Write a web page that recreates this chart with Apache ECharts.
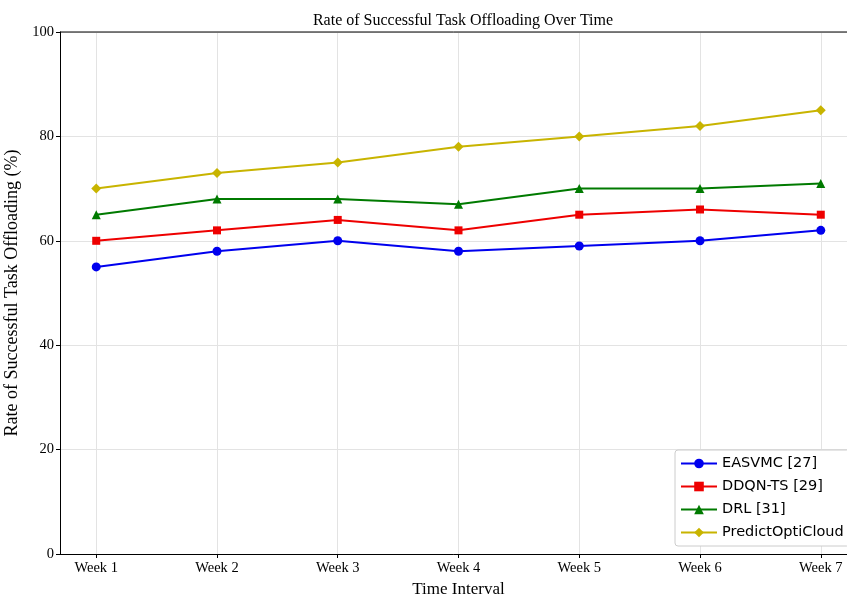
<!DOCTYPE html>
<html>
<head>
<meta charset="utf-8">
<script src="https://cdn.jsdelivr.net/npm/echarts@6/dist/echarts.min.js"></script>
<style>
  html, body { margin: 0; padding: 0; background: #fff; }
  #chart { width: 847px; height: 596px; }
</style>
</head>
<body>
<div id="chart"></div>
<script>
const weeks = ['Week 1', 'Week 2', 'Week 3', 'Week 4', 'Week 5', 'Week 6', 'Week 7'];
const easvmc = [55, 58, 60, 58, 59, 60, 62];
const ddqnts = [60, 62, 64, 62, 65, 66, 65];
const drl = [65, 68, 68, 67, 70, 70, 71];
const predictOptiCloud = [70, 73, 75, 78, 80, 82, 85];
const yTicks = [0, 20, 40, 60, 80, 100];

const serif = '"Liberation Serif", "DejaVu Serif", serif';
const pos = weeks.map((_, i) => i + 1);
const toPts = (arr) => arr.map((v, i) => [i + 1, v]);

const chart = echarts.init(document.getElementById('chart'));

function line(name, data, color, symbol, size) {
  return {
    name,
    type: 'line',
    data: toPts(data),
    symbol,
    symbolSize: size,
    itemStyle: { color },
    lineStyle: { color, width: 2 },
    emphasis: { disabled: true },
    z: 3,
  };
}

chart.setOption({
  animation: false,
  title: {
    text: 'Rate of Successful Task Offloading Over Time',
    left: 458,
    textAlign: 'center',
    top: 8,
    textStyle: { fontFamily: serif, fontSize: 16, fontWeight: 'normal', color: '#000' },
  },
  legend: {
    orient: 'vertical',
    left: 675,
    top: 450,
    padding: [6, 6, 6, 5],
    itemGap: 8,
    itemWidth: 36,
    itemHeight: 12,
    backgroundColor: '#fff',
    borderColor: '#ccc',
    borderWidth: 1,
    borderRadius: 3,
    textStyle: { fontFamily: '"DejaVu Sans", sans-serif', fontSize: 14.5, lineHeight: 15, color: '#000' },
    data: ['EASVMC [27]', 'DDQN-TS [29]', 'DRL [31]', 'PredictOptiCloud'],
  },
  grid: { left: 60, right: -10, top: 32, bottom: 42, containLabel: false, outerBoundsMode: 'none' },
  xAxis: {
    type: 'value',
    min: 0.7,
    max: 7.3,
    name: 'Time Interval',
    nameLocation: 'middle',
    nameGap: 25,
    nameTextStyle: { fontFamily: serif, fontSize: 17, color: '#000' },
    axisLine: { show: true, lineStyle: { color: '#000', width: 1 } },
    axisTick: { show: true, customValues: pos, length: 4, lineStyle: { color: '#000' } },
    axisLabel: {
      customValues: pos,
      fontFamily: serif,
      fontSize: 14.5,
      color: '#000',
      margin: 7,
      formatter: (v) => weeks[Math.round(v) - 1],
    },
    splitLine: { show: true, lineStyle: { color: '#e3e3e3', width: 1 } },
  },
  yAxis: {
    type: 'value',
    min: 0,
    max: 100,
    interval: 20,
    name: 'Rate of Successful Task Offloading (%)',
    nameLocation: 'middle',
    nameGap: 35,
    nameTextStyle: { fontFamily: serif, fontSize: 18, color: '#000' },
    axisLine: { show: true, lineStyle: { color: '#000', width: 1 } },
    axisTick: { show: true, length: 4, lineStyle: { color: '#000' } },
    axisLabel: {
      fontFamily: serif,
      fontSize: 14.5,
      color: '#000',
      margin: 6,
      customValues: yTicks,
    },
    splitLine: { show: true, lineStyle: { color: '#e3e3e3', width: 1 } },
  },
  graphic: [
    {
      type: 'line',
      shape: { x1: 60, y1: 32, x2: 847, y2: 32 },
      style: { stroke: '#000', lineWidth: 1 },
      z: 10,
    },
  ],
  series: [
    line('EASVMC [27]', easvmc, '#0000ee', 'circle', 9),
    line('DDQN-TS [29]', ddqnts, '#ee0000', 'rect', 8),
    line('DRL [31]', drl, '#007a00', 'triangle', 9),
    line('PredictOptiCloud', predictOptiCloud, '#c8b400', 'diamond', 10),
  ],
});
</script>
</body>
</html>
